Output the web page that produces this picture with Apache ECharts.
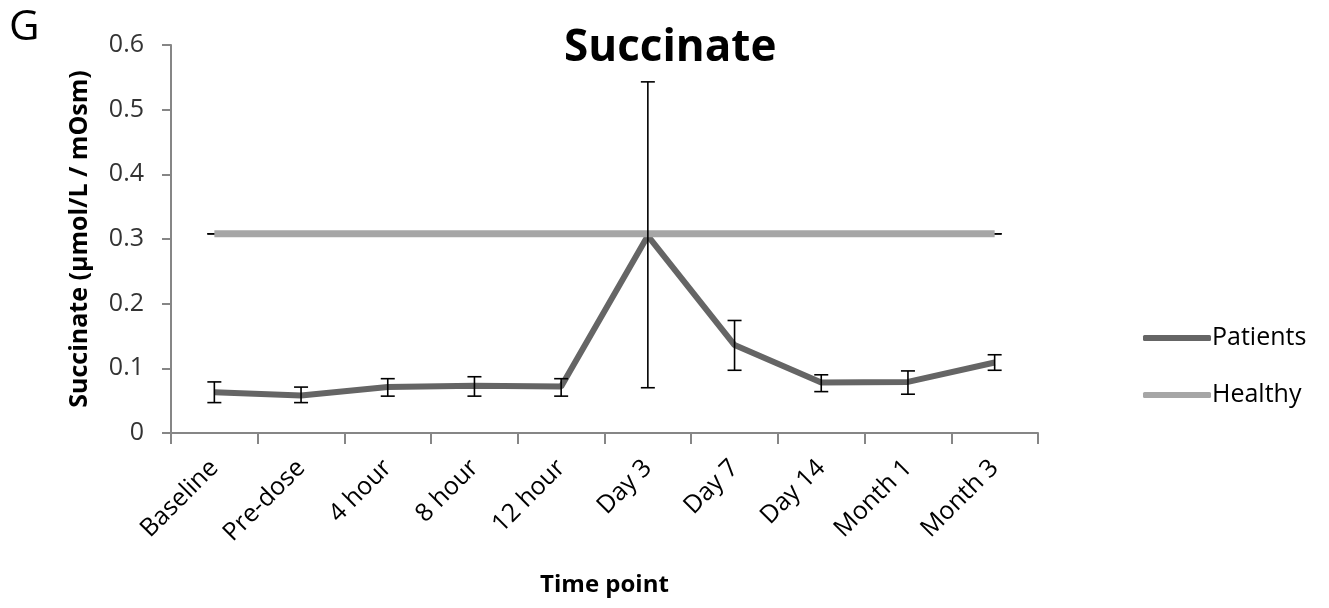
<!DOCTYPE html>
<html>
<head>
<meta charset="utf-8">
<script src="https://cdn.jsdelivr.net/npm/echarts@6/dist/echarts.min.js"></script>
<style>
  html, body { margin: 0; padding: 0; background: #fff; }
  #chart { width: 1329px; height: 608px; }
</style>
</head>
<body>
<div id="chart"></div>
<script>
// Urinary succinate over the dosing time course
const categories = ['Baseline', 'Pre-dose', '4 hour', '8 hour', '12 hour', 'Day 3', 'Day 7', 'Day 14', 'Month 1', 'Month 3'];
const patients  = [0.063, 0.058, 0.071, 0.073, 0.072, 0.305, 0.136, 0.078, 0.079, 0.109];
const errLow    = [0.047, 0.047, 0.057, 0.057, 0.057, 0.070, 0.097, 0.064, 0.060, 0.097];
const errHigh   = [0.079, 0.071, 0.084, 0.087, 0.084, 0.543, 0.174, 0.090, 0.096, 0.121];
const healthy   = [0.308, 0.308, 0.308, 0.308, 0.308, 0.308, 0.308, 0.308, 0.308, 0.308];
const yTicks    = { min: 0, max: 0.6, interval: 0.1 };

const FONT = '"Open Sans", "DejaVu Sans", sans-serif';
const AXIS_GREY = '#868686';

const chart = echarts.init(document.getElementById('chart'), null, { renderer: 'canvas' });

const patientErr = categories.map((c, i) => [i, errLow[i], errHigh[i]]);
// the healthy reference is a single value, so its error bars collapse to a cap
const healthyErr = categories.map((c, i) => [i, healthy[i], healthy[i]]);

function renderErrorBar(params, api) {
  const idx = api.value(0);
  const lo = api.coord([idx, api.value(1)]);
  const hi = api.coord([idx, api.value(2)]);
  const half = 7;
  const style = { stroke: '#000', lineWidth: 1.6 };
  return {
    type: 'group',
    children: [
      { type: 'line', shape: { x1: lo[0], y1: lo[1], x2: hi[0], y2: hi[1] }, style },
      { type: 'line', shape: { x1: hi[0] - half, y1: hi[1], x2: hi[0] + half, y2: hi[1] }, style },
      { type: 'line', shape: { x1: lo[0] - half, y1: lo[1], x2: lo[0] + half, y2: lo[1] }, style }
    ]
  };
}

chart.setOption({
  animation: false,
  backgroundColor: '#fff',
  title: {
    text: 'Succinate',
    left: 559,
    top: 21,
    textStyle: { fontFamily: FONT, fontWeight: 'bold', fontSize: 44, color: '#000' }
  },
  graphic: [{
    type: 'text',
    left: 9,
    top: 7,
    style: { text: 'G', fontFamily: FONT, fontSize: 42, fill: '#000' }
  }],
  legend: {
    orient: 'vertical',
    left: 1138,
    top: 317,
    itemWidth: 68,
    itemHeight: 6,
    itemGap: 25,
    icon: 'roundRect',
    selectedMode: false,
    data: ['Patients', 'Healthy'],
    textStyle: { fontFamily: FONT, fontSize: 25, color: '#000', lineHeight: 32, padding: [0, 0, 0, -4] }
  },
  grid: { left: 171, right: 291, top: 45, bottom: 175, containLabel: false },
  xAxis: {
    type: 'category',
    data: categories,
    boundaryGap: true,
    name: 'Time point',
    nameLocation: 'middle',
    nameGap: 140,
    nameTextStyle: { fontFamily: FONT, fontWeight: 'bold', fontSize: 24, color: '#000' },
    axisLine: { lineStyle: { color: AXIS_GREY, width: 2 } },
    axisTick: { show: true, length: 11, alignWithLabel: false, lineStyle: { color: AXIS_GREY, width: 2 } },
    axisLabel: { rotate: 45, margin: 31, fontFamily: FONT, fontSize: 25, color: '#000', interval: 0 },
    splitLine: { show: false }
  },
  yAxis: {
    type: 'value',
    min: yTicks.min,
    max: yTicks.max,
    interval: yTicks.interval,
    name: 'Succinate (µmol/L / mOsm)',
    nameLocation: 'middle',
    nameGap: 79,
    nameTextStyle: { fontFamily: FONT, fontWeight: 'bold', fontSize: 25, color: '#000' },
    axisLine: { show: true, lineStyle: { color: AXIS_GREY, width: 2 } },
    axisTick: { show: true, length: 9, lineStyle: { color: AXIS_GREY, width: 2 } },
    axisLabel: { margin: 27, fontFamily: FONT, fontSize: 25, color: '#333', formatter: v => (v === 0 ? '0' : v.toFixed(1)) },
    splitLine: { show: false }
  },
  series: [
    {
      name: 'healthy-error',
      type: 'custom',
      data: healthyErr,
      renderItem: renderErrorBar,
      encode: { x: 0, y: [1, 2] },
      z: 1,
      silent: true
    },
    {
      name: 'Patients',
      type: 'line',
      data: patients,
      symbol: 'none',
      z: 2,
      color: '#656565',
      lineStyle: { color: '#656565', width: 6 }
    },
    {
      name: 'Healthy',
      type: 'line',
      data: healthy,
      symbol: 'none',
      z: 3,
      color: '#a6a6a6',
      lineStyle: { color: '#a6a6a6', width: 7 }
    },
    {
      name: 'patient-error',
      type: 'custom',
      data: patientErr,
      renderItem: renderErrorBar,
      encode: { x: 0, y: [1, 2] },
      z: 5,
      silent: true
    }
  ]
});
</script>
</body>
</html>
